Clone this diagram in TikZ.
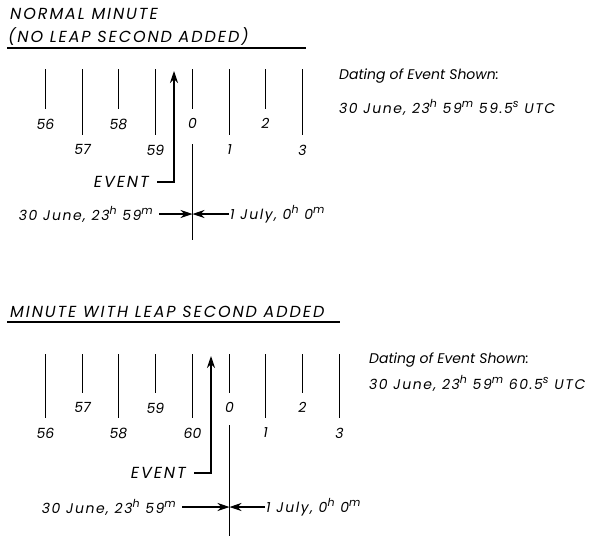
\documentclass[tikz,border=0pt]{standalone}
\usepackage{fontspec}
\setmainfont{Poppins}
\newfontfamily\datefont{Poppins}[LetterSpace=11]
\newfontfamily\headfont{Poppins}[LetterSpace=12]
\usetikzlibrary{arrows.meta, positioning}
\newcommand{\supx}[1]{\raisebox{0.42em}{\fontsize{11}{11}\selectfont #1}}

\begin{document}
\begin{tikzpicture}[
    x=1pt, y=-1pt,
    >={Stealth[length=12pt, width=8pt]},
    tick/.style={line width=1.4pt},
    num/.style={font=\itshape\fontsize{14}{16}\selectfont, inner sep=1pt, below=8pt},
    lbl/.style={font=\itshape\fontsize{14}{16}\selectfont, inner sep=1pt},
    stamp/.style={font=\datefont\itshape\fontsize{14}{16}\selectfont, inner sep=1pt},
    headline/.style={font=\headfont\itshape\fontsize{16}{18}\selectfont, inner sep=0pt},
    rule/.style={line width=1.3pt},
    pointer/.style={->, line width=1.1pt}
  ]
    \useasboundingbox (0,0) rectangle (598,536);

    % Normal minute
    \node[headline, anchor=base west] (title1) at (10,19) {NORMAL MINUTE};
    \node[headline, anchor=base west] (title1b) at (8,42) {(NO LEAP SECOND ADDED)};
    \draw[rule] (7,48) -- (306,48);

    \draw[tick] (45.5,69) -- (45.5,109) node[num] (a56) {56};
    \draw[tick] (82.5,69) -- (82.5,135) node[num] (a57) {57};
    \draw[tick] (118.5,69) -- (118.5,109) node[num] (a58) {58};
    \draw[tick] (155.5,69) -- (155.5,135) node[num] (a59) {59};
    \draw[tick] (192.5,69) -- (192.5,109) node[num] (a0) {0};
    \draw[tick] (229.5,69) -- (229.5,135) node[num] (a1) {1};
    \draw[tick] (265.5,69) -- (265.5,109) node[num] (a2) {2};
    \draw[tick] (302.5,69) -- (302.5,135) node[num] (a3) {3};

    \coordinate (z1) at (192.5,144);
    \coordinate (z1b) at (192.5,240);
    \draw[tick] (z1) -- (z1b);

    \coordinate (e1) at (174,71);
    \node[headline, anchor=east] (ev1) at (149,182) {EVENT};
    \draw[pointer] ([xshift=8pt]ev1.east) -| (e1);

    \coordinate (m1) at (192.5,214);
    \node[stamp, anchor=east] (d1) at (154,214) {30 June, 23\supx{h} 59\supx{m}};
    \node[stamp, anchor=west] (j1) at (229,214) {1 July, 0\supx{h} 0\supx{m}};
    \draw[pointer] ([xshift=5pt]d1.east) -- (m1);
    \draw[pointer] (j1.west) -- (m1);

    \node[lbl, anchor=west] (dt1) at (338,76) {Dating of Event Shown:};
    \node[stamp, anchor=west] (dv1) at (338,107) {30 June, 23\supx{h} 59\supx{m} 59.5\supx{s} UTC};

    % Minute with leap second
    \node[headline, anchor=base west] (title2) at (10,317) {MINUTE WITH LEAP SECOND ADDED};
    \draw[rule] (7,322) -- (340,322);

    \draw[tick] (45.5,354) -- (45.5,418) node[num] (b56) {56};
    \draw[tick] (82.5,354) -- (82.5,393) node[num] (b57) {57};
    \draw[tick] (118.5,354) -- (118.5,418) node[num] (b58) {58};
    \draw[tick] (155.5,354) -- (155.5,393) node[num] (b59) {59};
    \draw[tick] (192.5,354) -- (192.5,418) node[num] (b60) {60};
    \draw[tick] (229.5,354) -- (229.5,393) node[num] (b0) {0};
    \draw[tick] (265.5,354) -- (265.5,418) node[num] (b1) {1};
    \draw[tick] (302.5,354) -- (302.5,393) node[num] (b2) {2};
    \draw[tick] (339.5,354) -- (339.5,418) node[num] (b3) {3};

    \coordinate (z2) at (229.5,425);
    \coordinate (z2b) at (229.5,536);
    \draw[tick] (z2) -- (z2b);

    \coordinate (e2) at (211,356);
    \node[headline, anchor=east] (ev2) at (186,473) {EVENT};
    \draw[pointer] ([xshift=8pt]ev2.east) -| (e2);

    \coordinate (m2) at (229.5,507);
    \node[stamp, anchor=east] (d2) at (177,507) {30 June, 23\supx{h} 59\supx{m}};
    \node[stamp, anchor=west] (j2) at (265,507) {1 July, 0\supx{h} 0\supx{m}};
    \draw[pointer] ([xshift=5pt]d2.east) -- (m2);
    \draw[pointer] (j2.west) -- (m2);

    \node[lbl, anchor=west] (dt2) at (368,360) {Dating of Event Shown:};
    \node[stamp, anchor=west] (dv2) at (368,383) {30 June, 23\supx{h} 59\supx{m} 60.5\supx{s} UTC};
  \end{tikzpicture}
\end{document}
